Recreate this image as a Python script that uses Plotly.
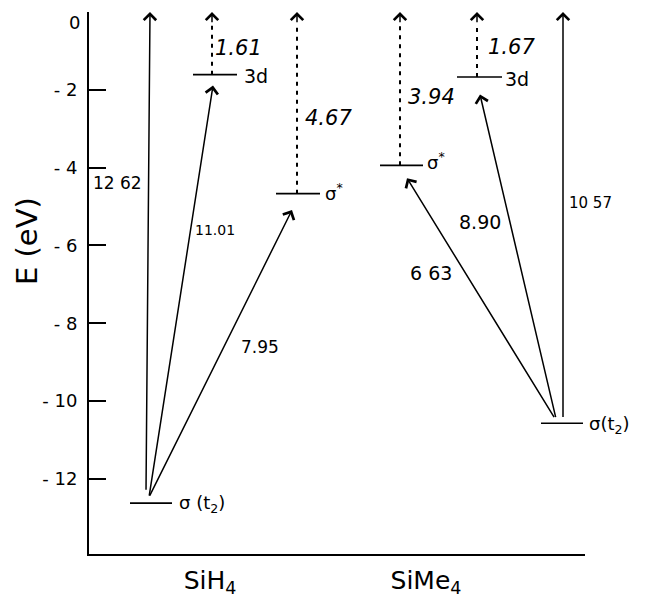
import plotly.graph_objects as go

# ---------------- data (energies in eV) ----------------
molecules = ["SiH<sub>4</sub>", "SiMe<sub>4</sub>"]
level_names = ["σ(t2)", "σ*", "3d"]
sih4_levels = [-12.62, -4.67, -1.61]     # σ(t2), σ*, 3d
sime4_levels = [-10.57, -3.94, -1.67]
sih4_transitions = ["12 62", "7.95", "11.01"]   # to vacuum, to σ*, to 3d
sime4_transitions = ["10 57", "6 63", "8.90"]
sih4_ionisation = ["4.67", "1.61"]              # σ* -> 0, 3d -> 0
sime4_ionisation = ["3.94", "1.67"]
ytick_vals = [-12, -10, -8, -6, -4, -2]
ytick_text = ["- 12", "- 10", "- 8", "- 6", "- 4", "- 2"]

# ---------------- layout helpers (page-pixel positions) ----------------
PX0, PY0, PPE = 89, 12, 38.9   # page x of y-axis, page y of E=0, pixels per eV
XMAX = 496
FONT = "DejaVu Sans"
def X(px):
    return px - PX0
def E(py):
    return -(py - PY0) / PPE

fig = go.Figure()

def level(x0, x1, e):
    fig.add_trace(go.Scatter(x=[X(x0), X(x1)], y=[e, e], mode="lines",
                             line=dict(color="black", width=1.7),
                             showlegend=False, hoverinfo="skip"))

def arrow(xs, es, xe, ee):
    fig.add_annotation(x=X(xe), y=ee, ax=X(xs), ay=es, xref="x", yref="y",
                       axref="x", ayref="y", text="", showarrow=True,
                       arrowhead=4, arrowsize=1.6, arrowwidth=1.5,
                       arrowcolor="black", standoff=0, startstandoff=0)

def dashed(xp, e):
    fig.add_trace(go.Scatter(x=[X(xp), X(xp)], y=[e, -0.3], mode="lines",
                             line=dict(color="black", width=2, dash="4px,5px"),
                             showlegend=False, hoverinfo="skip"))
    fig.add_annotation(x=X(xp), y=0, ax=X(xp), ay=-0.3, xref="x", yref="y",
                       axref="x", ayref="y", text="", showarrow=True,
                       arrowhead=4, arrowsize=1.6, arrowwidth=1.5,
                       arrowcolor="black", standoff=0, startstandoff=0)

def label(px, py, txt, size=15, anchor="center", italic=False):
    fig.add_annotation(x=X(px) / XMAX, y=E(py), xref="paper", yref="y", text=txt,
                       showarrow=False, xanchor=anchor, yanchor="middle",
                       font=dict(size=size, color="black", family=FONT,
                                 style="italic" if italic else "normal"))

# ---- SiH4 ----
g, s, d = sih4_levels
level(130, 172, g)
level(276, 320, s)
level(193, 237, d)
arrow(146, g + 0.3, 150, 0)
arrow(149, g + 0.15, 213, d - 0.28)
arrow(149, g + 0.15, 292, s - 0.42)
dashed(297, s)
dashed(212, d)
label(177, 504, "σ (t<sub>2</sub>)", 18, "left")
label(323, 192, "σ<sup>*</sup>", 18, "left")
label(242, 76, "3d", 19, "left")
label(117, 183, sih4_transitions[0], 17)
label(260, 347, sih4_transitions[1], 17)
label(215, 230, sih4_transitions[2], 14)
label(328, 118, sih4_ionisation[0], 21, italic=True)
label(238, 48, sih4_ionisation[1], 21, italic=True)

# ---- SiMe4 ----
g, s, d = sime4_levels
level(541, 583, g)
level(380, 423, s)
level(457, 502, d)
arrow(563, g + 0.12, 563, 0)
arrow(556, g + 0.12, 480, d - 0.45)
arrow(555, g + 0.12, 407, s - 0.33)
dashed(400, s)
dashed(477, d)
label(587, 425, "σ(t<sub>2</sub>)", 18, "left")
label(425, 161, "σ<sup>*</sup>", 18, "left")
label(503, 79, "3d", 19, "left")
label(590, 203, sime4_transitions[0], 15)
label(431, 273, sime4_transitions[1], 19)
label(480, 222, sime4_transitions[2], 19)
label(431, 97, sime4_ionisation[0], 21, italic=True)
label(511, 47, sime4_ionisation[1], 21, italic=True)

# axis title and the "0" label
fig.add_annotation(x=0, xshift=-62, y=E(241), xref="paper", yref="y", text="E (eV)",
                   textangle=-90, showarrow=False, xanchor="center", yanchor="middle",
                   borderpad=0,
                   font=dict(size=29, color="black", family=FONT))
fig.add_annotation(x=0, xshift=-7, y=E(22), xref="paper", yref="y", text="0",
                   showarrow=False, xanchor="right", yanchor="middle",
                   font=dict(size=18, color="black", family=FONT))

# page body has an 8px margin: shrink the figure and shift margins by 8px
fig.update_layout(
    width=637, height=591,
    margin=dict(l=81, r=60, t=4, b=45, autoexpand=False),
    paper_bgcolor="white", plot_bgcolor="white",
    font=dict(family=FONT, color="black"),
    xaxis=dict(range=[0, XMAX], showline=True, linewidth=2, linecolor="black",
               showgrid=False, zeroline=False, ticks="", automargin=False,
               tickvals=[X(210), X(426)], ticktext=molecules,
               tickfont=dict(size=25), ticklabelstandoff=3),
    yaxis=dict(range=[-13.93, 0], showline=True, linewidth=2, linecolor="black",
               showgrid=False, zeroline=False, ticks="inside", ticklen=17,
               tickwidth=1.5, tickcolor="black", automargin=False,
               tickvals=ytick_vals, ticktext=ytick_text,
               tickfont=dict(size=18), ticklabelstandoff=6),
)

fig.write_html("out.html")
